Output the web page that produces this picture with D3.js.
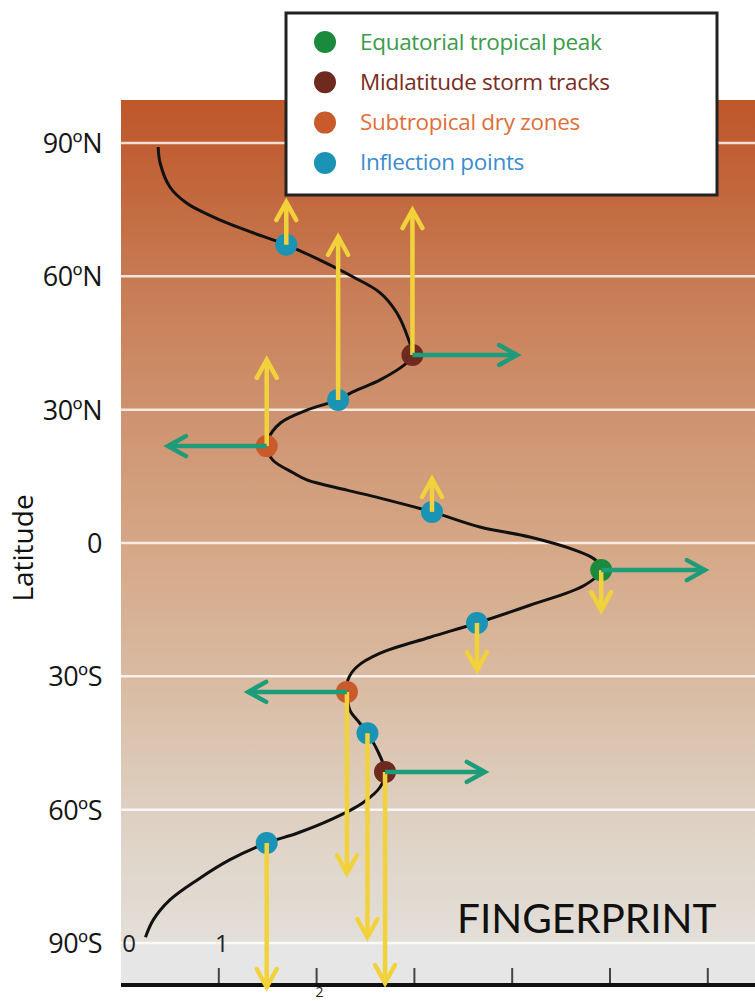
<!DOCTYPE html>
<html>
<head>
<meta charset="utf-8">
<script src="https://cdn.jsdelivr.net/npm/d3@7"></script>
<style>
  html, body { margin: 0; padding: 0; background: #ffffff; }
  svg { display: block; }
</style>
</head>
<body>
<svg id="chart" width="755" height="1001"></svg>
<script>
// ---------------- DATA ----------------
const latTicks = [90, 60, 30, 0, -30, -60, -90];
const latLabels = ["90ºN", "60ºN", "30ºN", "0", "30ºS", "60ºS", "90ºS"];
const xTicks = [1, 2, 3, 4, 5, 6];
const xLabelValues = [0, 1, 2];
const xLabelText = ["0", "1", "2"];

// fingerprint curve: latitude and value
const curveLat = [89.1, 85.5, 80.1, 76.5, 72.7, 69.8, 67.1, 63.7, 59.9, 56.3, 51.8, 46.4, 42.3, 40.5, 36.7, 34.0, 32.2, 29.9, 27.0, 23.2, 21.8, 18.7, 15.8, 14.2, 11.9, 10.1, 7.0, 3.6, 1.35, -1.6, -3.8, -6.1, -9.5, -14.0, -18.0, -21.2, -24.8, -27.9, -30.8, -33.5, -37.6, -40.5, -42.8, -46.6, -51.5, -54.9, -58.5, -62.3, -65.3, -67.5, -71.3, -75.8, -80.3, -84.8, -88.7];
const curveVal = [0.38, 0.40, 0.50, 0.67, 1.01, 1.35, 1.69, 2.03, 2.37, 2.65, 2.82, 2.93, 2.98, 2.92, 2.65, 2.37, 2.22, 1.90, 1.63, 1.50, 1.49, 1.55, 1.76, 1.90, 2.31, 2.65, 3.18, 3.67, 4.18, 4.64, 4.85, 4.91, 4.74, 4.18, 3.64, 3.16, 2.65, 2.41, 2.32, 2.31, 2.34, 2.44, 2.52, 2.62, 2.70, 2.65, 2.47, 2.14, 1.80, 1.49, 1.11, 0.78, 0.50, 0.33, 0.25];

// feature points
const markerLat = [67.1, 42.3, 32.2, 21.8, 7.0, -6.1, -18.0, -33.5, -42.8, -51.5, -67.5];
const markerVal = [1.69, 2.98, 2.22, 1.49, 3.18, 4.91, 3.64, 2.31, 2.52, 2.70, 1.49];
const markerType = ["inflection", "storm", "inflection", "dry", "inflection", "peak", "inflection", "dry", "inflection", "storm", "inflection"];
// latitude shift (yellow arrows) and intensity change (green arrows)
const shiftLat = [9.6, 32.6, 36.7, 19.4, 7.4, -9.0, -10.6, -40.8, -45.9, -47.5, -32.4];
const shiftVal = [0, 1.07, 0, -1.01, 0, 1.06, 0, -1.01, 0, 1.02, 0];

// legend
const legendKeys = ["peak", "storm", "dry", "inflection"];
const legendLabels = ["Equatorial tropical peak", "Midlatitude storm tracks", "Subtropical dry zones", "Inflection points"];
const dotColors = ["#1b8a3c", "#6e2a1f", "#c95a2b", "#1a93b5"];
const textColors = ["#3a9b48", "#7a2c22", "#e06f36", "#3a8cd0"];

const axisTitle = "Latitude";
const stamp = "FINGERPRINT";

// ---------------- CHART ----------------
const svg = d3.select("#chart");
const x = d3.scaleLinear().domain([0, 6.5]).range([121, 121 + 6.5 * 97.8]);
const y = d3.scaleLinear().domain([-90, 90]).range([943, 143]);
const plotLeft = 121, plotRight = 755, plotTop = 100, axisY = 985;

const defs = svg.append("defs");
const grad = defs.append("linearGradient").attr("id", "bg")
  .attr("gradientUnits", "userSpaceOnUse")
  .attr("x1", 0).attr("x2", 0).attr("y1", plotTop).attr("y2", axisY);
const stops = [
  [plotTop, "#bf572a"], [y(90), "#c05d32"], [y(60), "#c77a52"], [y(30), "#ce926f"],
  [y(0), "#d5a786"], [y(-30), "#d9baa1"], [y(-60), "#ded0c1"], [y(-90), "#e3dfd9"],
  [y(-90) + 1, "#e6e6e7"], [axisY, "#e6e6e7"]
];
stops.forEach(([py, c]) => grad.append("stop")
  .attr("offset", (py - plotTop) / (axisY - plotTop)).attr("stop-color", c));

svg.append("rect").attr("x", plotLeft).attr("y", plotTop)
  .attr("width", plotRight - plotLeft).attr("height", axisY - plotTop)
  .attr("fill", "url(#bg)");

// gridlines
svg.append("g").selectAll("line").data(latTicks).join("line")
  .attr("x1", plotLeft).attr("x2", plotRight)
  .attr("y1", d => y(d)).attr("y2", d => y(d))
  .attr("stroke", "#ffffff").attr("stroke-opacity", 0.8).attr("stroke-width", 2.5);

// y labels
svg.append("g").selectAll("text").data(latTicks).join("text")
  .attr("x", 102).attr("y", d => y(d) + 10)
  .attr("text-anchor", "end")
  .attr("font-family", "'Open Sans', sans-serif").attr("font-size", 27)
  .attr("letter-spacing", -0.5)
  .attr("fill", "#151515")
  .text((d, i) => latLabels[i]);

svg.append("text")
  .attr("transform", `translate(33,${y(0) + 5}) rotate(-90)`)
  .attr("text-anchor", "middle")
  .attr("font-family", "'Open Sans', sans-serif").attr("font-size", 28)
  .attr("fill", "#111").text(axisTitle);

// x axis
svg.append("g").selectAll("line").data(xTicks).join("line")
  .attr("x1", d => x(d)).attr("x2", d => x(d))
  .attr("y1", axisY - 17).attr("y2", axisY)
  .attr("stroke", "#444").attr("stroke-width", 2);
svg.append("line").attr("x1", plotLeft).attr("x2", plotRight)
  .attr("y1", axisY).attr("y2", axisY)
  .attr("stroke", "#111").attr("stroke-width", 4);
svg.append("g").selectAll("text").data(xLabelValues).join("text")
  .attr("x", d => x(d) + (d === 0 ? 8 : 3))
  .attr("y", d => d < 2 ? 952 : 997)
  .attr("text-anchor", "middle")
  .attr("font-family", "'Open Sans', sans-serif")
  .attr("font-size", d => d < 2 ? 24 : 14)
  .attr("fill", "#222")
  .text((d, i) => xLabelText[i]);

// curve
const pts = curveLat.map((la, i) => [x(curveVal[i]), y(la)]);
svg.append("path").datum(pts)
  .attr("d", d3.line().curve(d3.curveCatmullRom.alpha(0.5)))
  .attr("fill", "none").attr("stroke", "#111").attr("stroke-width", 3);

// markers
const colorOf = k => dotColors[legendKeys.indexOf(k)];
svg.append("g").selectAll("circle").data(markerLat).join("circle")
  .attr("cx", (d, i) => x(markerVal[i])).attr("cy", d => y(d))
  .attr("r", 11).attr("fill", (d, i) => colorOf(markerType[i]));

// arrows
function arrow(g, x1, y1, x2, y2, color) {
  const len = Math.hypot(x2 - x1, y2 - y1);
  const ux = (x2 - x1) / len, uy = (y2 - y1) / len;
  const back = 18, side = 10;
  const bx = x2 - ux * back, by = y2 - uy * back;
  g.append("line").attr("x1", x1).attr("y1", y1).attr("x2", x2).attr("y2", y2)
    .attr("stroke", color).attr("stroke-width", 4.5).attr("stroke-linecap", "butt");
  g.append("path")
    .attr("d", `M${bx - uy * side},${by + ux * side}L${x2},${y2}L${bx + uy * side},${by - ux * side}`)
    .attr("fill", "none").attr("stroke", color).attr("stroke-width", 4.5)
    .attr("stroke-linecap", "round").attr("stroke-linejoin", "miter");
}
const ag = svg.append("g");
markerLat.forEach((la, i) => {
  const cx = x(markerVal[i]), cy = y(la);
  if (shiftLat[i] !== 0) arrow(ag, cx, cy, cx, y(la + shiftLat[i]), "#f2d23a");
});
markerLat.forEach((la, i) => {
  const cx = x(markerVal[i]), cy = y(la);
  if (shiftVal[i] !== 0) arrow(ag, cx, cy, x(markerVal[i] + shiftVal[i]), cy, "#1c9c78");
});

// stamp
svg.append("text").attr("x", 457).attr("y", 933)
  .attr("font-family", "Lato, sans-serif").attr("font-size", 40.5)
  .attr("fill", "#111").text(stamp);

// legend
const lg = svg.append("g");
lg.append("rect").attr("x", 286).attr("y", 13).attr("width", 431).attr("height", 182)
  .attr("fill", "#ffffff").attr("stroke", "#222").attr("stroke-width", 3);
legendKeys.forEach((k, i) => {
  const yy = 42 + i * 40.3;
  lg.append("circle").attr("cx", 325).attr("cy", yy).attr("r", 11).attr("fill", dotColors[i]);
  lg.append("text").attr("x", 360).attr("y", yy + 7.5)
    .attr("font-family", "'Open Sans', sans-serif").attr("font-size", 22.5)
    .attr("letter-spacing", -0.3)
    .attr("fill", textColors[i]).text(legendLabels[i]);
});
</script>
</body>
</html>
